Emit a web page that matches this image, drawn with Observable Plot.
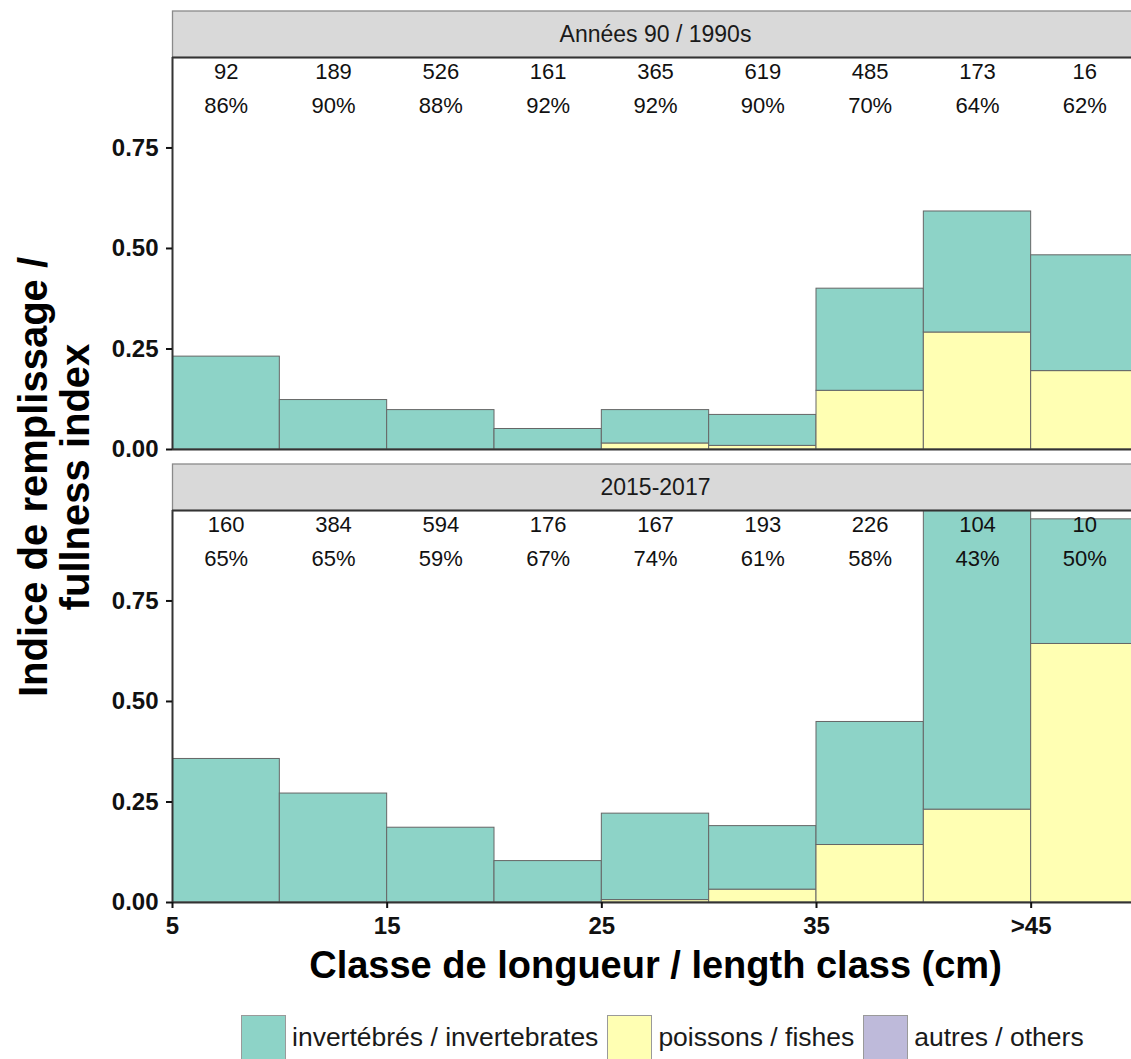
<!DOCTYPE html>
<html>
<head>
<meta charset="utf-8">
<script src="https://cdn.jsdelivr.net/npm/d3@7"></script>
<script src="https://cdn.jsdelivr.net/npm/@observablehq/plot@0.6"></script>
<style>
  html, body { margin: 0; padding: 0; background: #fff; overflow: hidden; }
  #wrap { position: relative; width: 1131px; height: 1059px; overflow: hidden;
          font-family: "Liberation Sans", Arial, Helvetica, sans-serif; }
  #chart { width: 1138px; }
  #chart svg { display: block; max-width: none !important; }
  #ytitle { position: absolute; left: 54px; top: 477px;
            transform: translate(-50%, -50%) rotate(-90deg);
            font-weight: bold; font-size: 40px; line-height: 42px;
            text-align: center; white-space: nowrap; color: #000; }
  #legend { position: absolute; left: 241px; top: 1015px; display: flex; align-items: center;
            font-size: 26.5px; color: #1a1a1a; }
  #legend .item { display: flex; align-items: center; margin-right: 9px; }
  #legend .key { width: 45px; height: 45px; box-sizing: border-box; border: 1px solid #9a9a9a; margin-right: 6px; }
</style>
</head>
<body>
<div id="wrap">
  <div id="chart"></div>
  <div id="ytitle"></div>
  <div id="legend"></div>
</div>
<script>
// Periods (facets), length classes and prey groups
const periods = ["Années 90 / 1990s", "2015-2017"];
const classStart = [5, 10, 15, 20, 25, 30, 35, 40, 45];
const classWidth = 5;
const groups = ["invertébrés / invertebrates", "poissons / fishes", "autres / others"];
const groupColors = ["#8DD3C7", "#FFFFB3", "#BEBADA"];
// stacking order, bottom to top
const stackOrder = ["autres / others", "poissons / fishes", "invertébrés / invertebrates"];

// Fullness index by prey group, 1990s
const invert1990s = [0.231, 0.123, 0.098, 0.051, 0.083, 0.077, 0.254, 0.301, 0.288];
const fish1990s   = [0.000, 0.000, 0.000, 0.000, 0.015, 0.009, 0.146, 0.291, 0.195];
const others1990s = [0, 0, 0, 0, 0, 0, 0, 0, 0];

// Fullness index by prey group, 2015-2017
const invert2015 = [0.357, 0.271, 0.186, 0.103, 0.215, 0.158, 0.306, 0.889, 0.310];
const fish2015   = [0.000, 0.000, 0.000, 0.000, 0.006, 0.032, 0.143, 0.231, 0.643];
const others2015 = [0, 0, 0, 0, 0, 0, 0, 0, 0];

// Sample sizes and share of non-empty stomachs per class
const count1990s = [92, 189, 526, 161, 365, 619, 485, 173, 16];
const pctFull1990s = [86, 90, 88, 92, 92, 90, 70, 64, 62];
const count2015 = [160, 384, 594, 176, 167, 193, 226, 104, 10];
const pctFull2015 = [65, 65, 59, 67, 74, 61, 58, 43, 50];

// Axes
const xTicks = [5, 15, 25, 35, 45];
const xTickLabels = ["5", "15", "25", "35", ">45"];
const yTicks = [0, 0.25, 0.5, 0.75];
const X_DOMAIN = [5, 50];
const Y_MAX = 0.975;
const STRIP_H = 46.5;
const STRIP_DY = -STRIP_H / 2;

const seriesByPeriod = new Map([
  [periods[0], new Map([[groups[0], invert1990s], [groups[1], fish1990s], [groups[2], others1990s]])],
  [periods[1], new Map([[groups[0], invert2015], [groups[1], fish2015], [groups[2], others2015]])]
]);

// Stacked rectangles: one per period × class × group
const bars = [];
for (const p of periods) {
  const series = seriesByPeriod.get(p);
  classStart.forEach((lo, i) => {
    let base = 0;
    for (const g of stackOrder) {
      const v = series.get(g)[i];
      bars.push({period: p, lo, hi: lo + classWidth, group: g, y1: base, y2: base + v});
      base += v;
    }
  });
}

// "n / % full" annotations above each class
const annotations = [];
[[periods[0], count1990s, pctFull1990s], [periods[1], count2015, pctFull2015]].forEach(([p, n, pct]) => {
  classStart.forEach((lo, i) => {
    annotations.push({period: p, mid: lo + classWidth / 2, text: `${n[i]}\n${pct[i]}%`});
  });
});

// Grey facet strip drawn behind each facet's title
function stripBackground(index, scales, values, dimensions, context, next) {
  const g = next(index, scales, values, dimensions, context);
  const top = scales.y(Y_MAX);
  const x0 = scales.x(X_DOMAIN[0]);
  const x1 = scales.x(X_DOMAIN[1]);
  const NS = "http://www.w3.org/2000/svg";
  const rect = document.createElementNS(NS, "rect");
  rect.setAttribute("x", x0);
  // the mark's group is already shifted by the title's dy
  rect.setAttribute("y", top - STRIP_H - STRIP_DY);
  rect.setAttribute("width", x1 - x0);
  rect.setAttribute("height", STRIP_H);
  rect.setAttribute("fill", "#D9D9D9");
  rect.setAttribute("stroke", "#8a8a8a");
  rect.setAttribute("stroke-width", 1.3);
  g.insertBefore(rect, g.firstChild);
  return g;
}

const chart = Plot.plot({
  width: 1138,
  height: 1000,
  marginLeft: 172,
  marginRight: 0,
  marginTop: 57,
  marginBottom: 97,
  style: {fontFamily: "'Liberation Sans', Arial, Helvetica, sans-serif", background: "transparent", overflow: "visible", maxWidth: "none"},
  x: {domain: X_DOMAIN},
  y: {domain: [0, Y_MAX]},
  fy: {domain: periods, axis: null, label: null, paddingInner: 0.134, paddingOuter: 0},
  color: {domain: groups, range: groupColors},
  marks: [
    Plot.rect(bars, {
      x1: "lo", x2: "hi", y1: "y1", y2: "y2", fy: "period",
      fill: "group", stroke: "#666", strokeWidth: 1, clip: true
    }),
    Plot.ruleX([X_DOMAIN[0]], {stroke: "#333", strokeWidth: 2}),
    Plot.ruleY([0], {stroke: "#333", strokeWidth: 2}),
    Plot.text(annotations, {
      x: "mid", fy: "period", text: "text", frameAnchor: "top", lineAnchor: "top",
      lineHeight: 1.53, dy: -2, fontSize: 22, fill: "#111"
    }),
    Plot.text(periods, {
      fy: d => d, text: d => d, frameAnchor: "top", lineAnchor: "middle",
      dy: STRIP_DY, fontSize: 23, fill: "#1a1a1a",
      render: stripBackground
    }),
    Plot.ruleY([Y_MAX], {stroke: "#333", strokeWidth: 2}),
    Plot.axisY(yTicks, {
      tickFormat: d3.format(".2f"), tickSize: 6, tickPadding: 8,
      fontSize: 24, fontWeight: "bold", color: "#111", strokeWidth: 2, label: null
    }),
    Plot.axisX(xTicks, {
      tickFormat: d => xTickLabels[xTicks.indexOf(d)], tickSize: 6, tickPadding: 8,
      fontSize: 24, fontWeight: "bold", color: "#111", strokeWidth: 2, label: null
    }),
    Plot.axisX({
      ticks: [], tickSize: 0, label: "Classe de longueur / length class (cm)",
      labelAnchor: "center", labelArrow: "none", labelOffset: 75,
      fontSize: 38, fontWeight: "bold", color: "#000"
    })
  ]
});
document.getElementById("chart").appendChild(chart);

// Y axis title (two lines)
document.getElementById("ytitle").innerHTML = "Indice de remplissage /<br>fullness index";

// Legend
const legend = document.getElementById("legend");
groups.forEach((g, k) => {
  const item = document.createElement("div");
  item.className = "item";
  const key = document.createElement("div");
  key.className = "key";
  key.style.background = groupColors[k];
  const label = document.createElement("span");
  label.textContent = g;
  item.appendChild(key);
  item.appendChild(label);
  legend.appendChild(item);
});
</script>
</body>
</html>
